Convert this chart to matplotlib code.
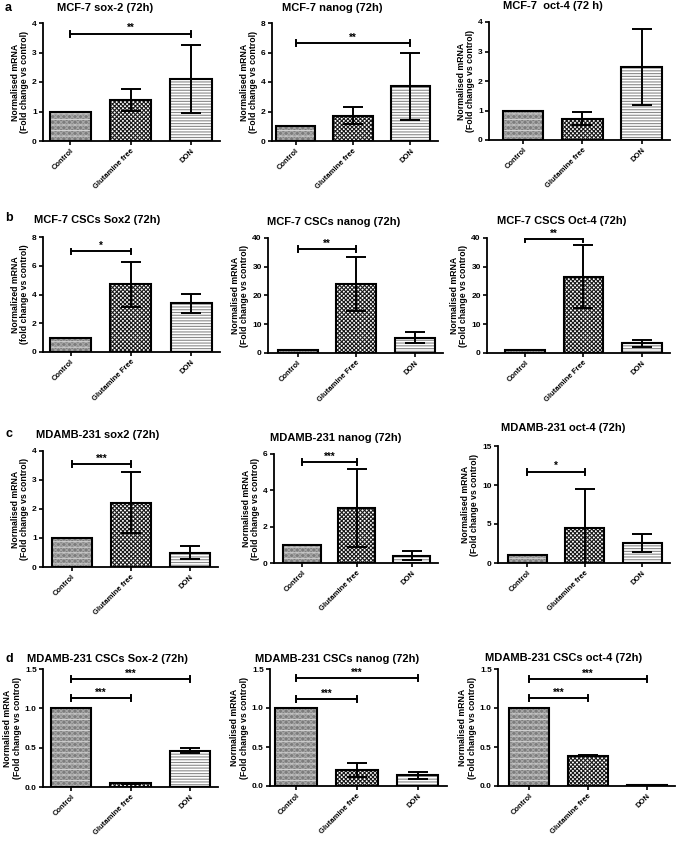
import matplotlib.pyplot as plt

W, H = 676, 841
plt.rcParams['font.family'] = ['Liberation Sans', 'DejaVu Sans']
plt.rcParams['font.weight'] = 'bold'
plt.rcParams['axes.labelweight'] = 'bold'
plt.rcParams['hatch.linewidth'] = 0.8

# --- data (one entry per panel, rows a-d, left to right) ---
titles = [
    "MCF-7 sox-2 (72h)", "MCF-7 nanog (72h)", "MCF-7  oct-4 (72 h)",
    "MCF-7 CSCs Sox2 (72h)", "MCF-7 CSCs nanog (72h)", "MCF-7 CSCS Oct-4 (72h)",
    "MDAMB-231 sox2 (72h)", "MDAMB-231 nanog (72h)", "MDAMB-231 oct-4 (72h)",
    "MDAMB-231 CSCs Sox-2 (72h)", "MDAMB-231 CSCs nanog (72h)", "MDAMB-231 CSCs oct-4 (72h)",
]
ylab_std = "Normalised mRNA\n(Fold change vs control)"
ylab_b1 = "Normalized mRNA\n(fold change vs control)"
groups_lower = ["Control", "Glutamine free", "DON"]
groups_upper = ["Control", "Glutamine Free", "DON"]

means = [
    [1.0, 1.38, 2.10], [1.0, 1.70, 3.70], [1.0, 0.72, 2.48],
    [1.0, 4.70, 3.38], [1.0, 24.0, 5.30], [1.0, 26.5, 3.40],
    [1.0, 2.22, 0.50], [1.0, 3.05, 0.40], [1.0, 4.50, 2.55],
    [1.0, 0.05, 0.46], [1.0, 0.21, 0.14], [1.0, 0.39, 0.01],
]
errors = [
    [0, 0.37, 1.15], [0, 0.58, 2.28], [0, 0.22, 1.28],
    [0, 1.55, 0.65], [0, 9.50, 1.90], [0, 10.9, 1.20],
    [0, 1.05, 0.23], [0, 2.15, 0.25], [0, 5.05, 1.15],
    [0, 0.006, 0.03], [0, 0.09, 0.045], [0, 0.005, 0.003],
]
ymax = [4, 8, 4, 8, 40, 40, 4, 6, 15, 1.5, 1.5, 1.5]
ystep = [1, 2, 1, 2, 10, 10, 1, 2, 5, 0.5, 0.5, 0.5]
# significance brackets: (from group, to group, height, stars)
sig = [
    [(0, 2, 3.63, "**")], [(0, 2, 6.64, "**")], [],
    [(0, 1, 7.0, "*")], [(0, 1, 36.2, "**")], [(0, 1, 39.6, "**")],
    [(0, 1, 3.55, "***")], [(0, 1, 5.56, "***")], [(0, 1, 11.7, "*")],
    [(0, 1, 1.13, "***"), (0, 2, 1.37, "***")],
    [(0, 1, 1.115, "***"), (0, 2, 1.385, "***")],
    [(0, 1, 1.128, "***"), (0, 2, 1.37, "***")],
]

# --- layout in pixels ---
rects = [  # left, y of zero, right, y of max
    (43, 141, 220, 23), (272, 141, 438, 23), (489, 140, 670, 22),
    (43, 352, 220, 237), (268, 353, 443, 238), (487, 353, 670, 238),
    (43, 567, 218, 451), (274, 563, 438, 454), (498, 563, 670, 446),
    (43, 787, 218, 669), (270, 786, 447, 669), (498, 786, 675, 669),
]
xleft = [-0.45, -0.41, -0.58, -0.46, -0.51, -0.65,
         -0.49, -0.51, -0.51, -0.48, -0.43, -0.53]
title_pos = [(105, 8), (332, 8), (553, 6), (97, 220), (334, 222), (562, 221),
             (98, 435), (336, 438), (563, 428), (107, 659), (337, 659), (564, 658)]
letters = [("a", 8), ("b", 218), ("c", 434), ("d", 659)]

# bar fills: list of (face, hatch colour, hatch) layers per group
fills = [
    [("#7c7c7c", "#a6a6a6", "xxxxxx"), ("none", "#d0d0d0", "---")],
    [("white", "#1a1a1a", "xxxxxxxx")],
    [("white", "#8a8a8a", "------")],
]

fig = plt.figure(figsize=(W / 100, H / 100), dpi=100)

for k in range(12):
    l, b, r, t = rects[k]
    ax = fig.add_axes([l / W, 1 - b / H, (r - l) / W, (b - t) / H])
    x = list(range(3))
    for i in x:
        for face, hc, hatch in fills[i]:
            ax.bar(i, means[k][i], 0.68, color=face, edgecolor=hc,
                   hatch=hatch, linewidth=0)
        ax.bar(i, means[k][i], 0.68, fill=False, edgecolor="black", linewidth=1.5)
    ax.errorbar(x[1:], means[k][1:], yerr=errors[k][1:], fmt="none",
                ecolor="black", elinewidth=1.4, capsize=7, capthick=1.4)

    d = ymax[k] * 0.025
    for g1, g2, yy, stars in sig[k]:
        ax.plot([g1, g2], [yy, yy], color="black", lw=1.4)
        ax.plot([g1, g1], [yy - d, yy + d], color="black", lw=1.4)
        ax.plot([g2, g2], [yy - d, yy + d], color="black", lw=1.4)
        ax.text((g1 + g2) / 2, yy + d * 0.2, stars, ha="center", va="bottom",
                fontsize=7, fontweight="bold")

    ax.set_ylim(0, ymax[k])
    ax.set_xlim(xleft[k], 2.48)
    n = int(round(ymax[k] / ystep[k]))
    ax.set_yticks([ystep[k] * j for j in range(n + 1)])
    if ymax[k] == 1.5:
        ax.set_yticklabels([f"{ystep[k] * j:.1f}" for j in range(n + 1)])
    ax.set_xticks(x)
    labs = groups_upper if 3 <= k <= 5 else groups_lower
    ax.set_xticklabels(labs, rotation=45, ha="right", rotation_mode="anchor",
                       fontsize=5.5, fontweight="bold")
    ax.tick_params(width=1.2, length=3, pad=1.5)
    ax.tick_params(axis="y", labelsize=6)
    for s in ["top", "right"]:
        ax.spines[s].set_visible(False)
    for s in ["left", "bottom"]:
        ax.spines[s].set_linewidth(1.3)
    ax.set_ylabel(ylab_b1 if k == 3 else ylab_std, fontsize=6.3,
                  fontweight="bold", labelpad=2, linespacing=1.1)

    tx, ty = title_pos[k]
    fig.text(tx / W, 1 - ty / H, titles[k], ha="center", va="center",
             fontsize=8, fontweight="bold")

for letter, ly in letters:
    fig.text(5 / W, 1 - ly / H, letter, ha="left", va="center",
             fontsize=9, fontweight="bold")

plt.savefig("out.png", dpi=100)
